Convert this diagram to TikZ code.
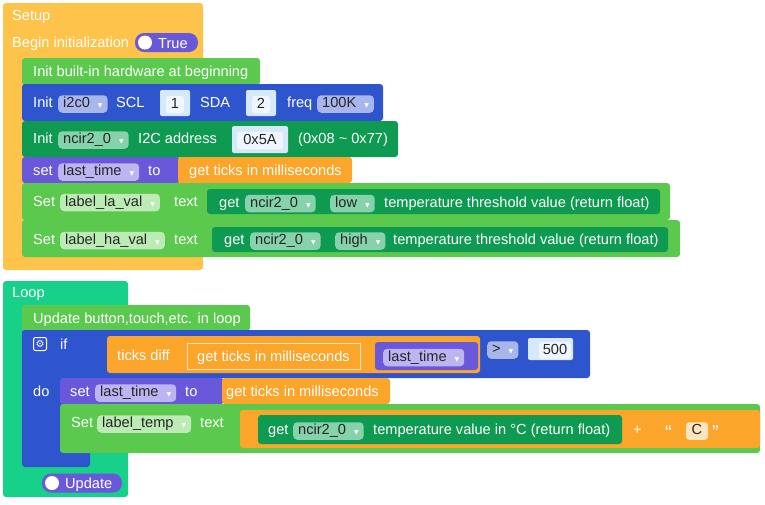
\documentclass[tikz,border=0pt]{standalone}
\usepackage{fontspec}
\setmainfont{Liberation Sans}
\newfontfamily\djv{DejaVu Sans}
\definecolor{yel}{HTML}{FDC34B}
\definecolor{lgr}{HTML}{5BC84E}
\definecolor{blu}{HTML}{2F55CE}
\definecolor{dgr}{HTML}{0E9A50}
\definecolor{pur}{HTML}{6A58DA}
\definecolor{org}{HTML}{FCA52B}
\definecolor{tea}{HTML}{17D08A}
\definecolor{fblu}{HTML}{A9B6EC}
\definecolor{fdgr}{HTML}{86D2AA}
\definecolor{fpur}{HTML}{BDB4F2}
\definecolor{flgr}{HTML}{BDEBB5}
\definecolor{fnum}{HTML}{D6E9FB}
\definecolor{bnum}{HTML}{A8D0F5}
\newcommand\dd{\hspace{8pt}{\djv\fontsize{6}{6}\selectfont\color{white}▼}}
\tikzset{
 fnt/.style={font=\fontsize{14.6}{15}\selectfont},
 lbl/.style={anchor=west,inner sep=0pt,text height=10.5pt,text depth=3pt,text=white,fnt,yshift=-1.5pt},
 fld/.style={anchor=west,fill=#1,rounded corners=4pt,inner xsep=5pt,inner ysep=2pt,text height=10.5pt,text depth=3pt,text=black!85,fnt,yshift=-1.5pt},
 blk/.style={fill=#1,rounded corners=3pt},
 numf/.style={fill=white!60!fnum,rounded corners=3pt,inner xsep=0pt,inner ysep=2pt,text height=10.5pt,text depth=3pt,text=black!85,fnt,yshift=-1.5pt}
}
\begin{document}
\begin{tikzpicture}[x=1pt,y=-1pt]
\useasboundingbox (0,0) rectangle (765,504);
% ---------- Setup ----------
\fill[blk=yel] (3,3) rectangle (203,270);
\node[lbl] (setup) at (12,15) {Setup};
\node[lbl] (begin) at (12,42) {Begin initialization};
\node[fill=pur,rounded corners=9pt,minimum width=63pt,minimum height=19pt,inner sep=0pt] (truep) at (166.5,42.5) {};
\fill[white] (145,42.5) circle (7);
\node[lbl] (truet) at (158,43) {True};
% Init built-in
\fill[blk=lgr] (22,58) rectangle (260,85);
\node[lbl] (ib) at (33,71) {Init built-in hardware at beginning};
% Init i2c
\fill[blk=blu] (22,84) rectangle (383,121);
\node[lbl] (i1) at (33,102.5) {Init};
\node[fld=fblu] (i2c) at (58,102.5) {i2c0\dd};
\node[lbl] (scl) at (116,102.5) {SCL};
\fill[fnum,rounded corners=2] (160,90) rectangle (190,116);
\node[numf,minimum width=18pt] (n1) at (175,103) {1};
\node[lbl] (sda) at (200,102.5) {SDA};
\fill[fnum,rounded corners=2] (246,90) rectangle (276,116);
\node[numf,minimum width=18pt] (n2) at (261,103) {2};
\node[lbl] (freq) at (287,102.5) {freq};
\node[fld=fblu] (fq) at (317,102.5) {100K\dd};
% Init ncir
\fill[blk=dgr] (22,121) rectangle (398,157);
\node[lbl] (i3) at (33,138.5) {Init};
\node[fld=fdgr] (nc1) at (58,138.5) {ncir2\_0\dd};
\node[lbl] (addr) at (138,138.5) {I2C address};
\fill[fnum,rounded corners=2] (232,126) rectangle (288,153);
\node[numf,minimum width=46pt] (x5a) at (260,139) {0x5A};
\node[lbl] (rng) at (298,138.5) {(0x08 \textasciitilde{} 0x77)};
% set last_time
\fill[blk=pur] (22,157) rectangle (180,183);
\node[lbl] (set1) at (33,170.5) {set};
\node[fld=fpur] (lt1) at (58,170.5) {last\_time\dd};
\node[lbl] (to1) at (148,170.5) {to};
\fill[blk=org] (178,157) rectangle (352,183);
\node[lbl] (gt1) at (189,170.5) {get ticks in milliseconds};
% Set label_la_val
\fill[blk=lgr] (22,183) rectangle (670,220);
\node[lbl] (s1) at (33,201) {Set};
\node[fld=flgr] (la) at (60,201) {label\_la\_val\dd};
\node[lbl] (tx1) at (174,201) {text};
\fill[blk=dgr] (207,189) rectangle (660,214);
\node[lbl] (g1) at (219,202) {get};
\node[fld=fdgr] (nc2) at (245,202) {ncir2\_0\dd};
\node[fld=fdgr] (low) at (330,202) {low\dd};
\node[lbl] (tt1) at (384,202) {temperature threshold value (return float)};
% Set label_ha_val
\fill[blk=lgr] (22,220) rectangle (680,257);
\node[lbl] (s2) at (33,239) {Set};
\node[fld=flgr] (ha) at (60,239) {label\_ha\_val\dd};
\node[lbl] (tx2) at (174,239) {text};
\fill[blk=dgr] (212,227) rectangle (668,252);
\node[lbl] (g2) at (224,239.5) {get};
\node[fld=fdgr] (nc3) at (250,239.5) {ncir2\_0\dd};
\node[fld=fdgr] (high) at (335,239.5) {high\dd};
\node[lbl] (tt2) at (393,239.5) {temperature threshold value (return float)};
% ---------- Loop ----------
\fill[blk=tea] (3,281) rectangle (128,497);
\node[lbl] (loop) at (12,292) {Loop};
\fill[blk=lgr] (22,305) rectangle (250,331);
\node[lbl] (ub) at (33,318) {Update button,touch,etc. in loop};
% if block
\fill[blk=blu] (22,330) rectangle (90,467);
\fill[blk=blu] (22,330) rectangle (590,378);
\node[draw=white,line width=1pt,fill=blu,rounded corners=2pt,minimum size=13pt,inner sep=0pt,text=white,font=\djv\fontsize{10}{10}\selectfont] (gear) at (40,344) {⚙};
\node[lbl] (if) at (60,344) {if};
\node[lbl] (do) at (33,391) {do};
\fill[blk=org] (107,336) rectangle (480,373);
\node[lbl] (td) at (117,355) {ticks diff};
\node[draw=white!70!org,fill=org,minimum width=173pt,minimum height=26pt,inner sep=0pt,anchor=west] (gt2box) at (187,356) {};
\node[lbl] (gt2) at (197,356) {get ticks in milliseconds};
\fill[blk=pur] (375,342) rectangle (478,370);
\node[fld=fpur] (lt2) at (383,356) {last\_time\dd};
\node[fld=fblu] (gtop) at (487,348.5) {>\dd};
\fill[fnum,rounded corners=2] (528,338) rectangle (573,360);
\node[numf,minimum width=32pt] (n500) at (555,349) {500};
% do: set last_time
\fill[blk=pur] (60,378) rectangle (224,404);
\node[lbl] (set2) at (70,391.5) {set};
\node[fld=fpur] (lt3) at (95,391.5) {last\_time\dd};
\node[lbl] (to2) at (185,391.5) {to};
\fill[blk=org] (222,378) rectangle (390,404);
\node[lbl] (gt3) at (226,391.5) {get ticks in milliseconds};
% Set label_temp
\fill[blk=lgr] (60,404) rectangle (760,453);
\node[lbl] (s3) at (71,422.5) {Set};
\node[fld=flgr] (lt) at (97,422.5) {label\_temp\dd};
\node[lbl] (tx3) at (200,422.5) {text};
\fill[blk=org] (240,410) rectangle (760,448);
\fill[blk=dgr] (258,415) rectangle (622,444);
\node[lbl] (g3) at (268,429.5) {get};
\node[fld=fdgr] (nc4) at (293,429.5) {ncir2\_0\dd};
\node[lbl] (tv) at (373,429.5) {temperature value in °C (return float)};
\node[lbl] (plus) at (633,429.5) {+};
\node[anchor=west,inner sep=0pt,text=white,font=\fontsize{20}{20}\selectfont] (q1) at (665,433) {“};
\node[numf,fill=white!70!org,minimum width=22pt] (cfield) at (697,429.5) {C};
\node[anchor=west,inner sep=0pt,text=white,font=\fontsize{20}{20}\selectfont] (q2) at (712,433) {”};
% Update pill
\node[fill=pur,rounded corners=9pt,minimum width=80pt,minimum height=19pt,inner sep=0pt] (updp) at (82,483) {};
\fill[white] (52,483) circle (7);
\node[lbl] (updt) at (65,483) {Update};
\end{tikzpicture}
\end{document}
